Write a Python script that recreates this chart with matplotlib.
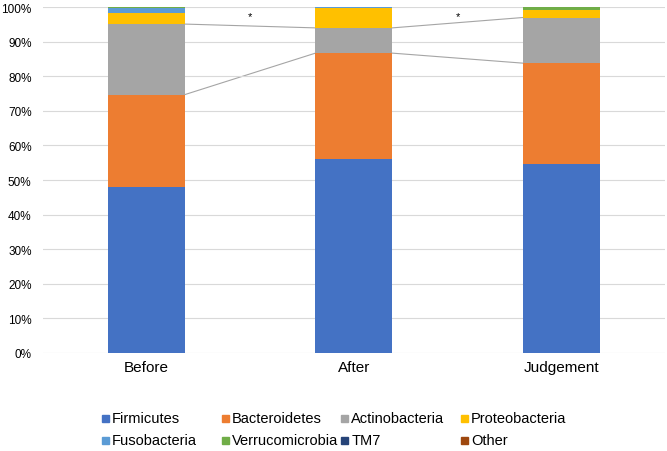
import numpy as np
import matplotlib.pyplot as plt
from matplotlib.patches import Rectangle
from matplotlib.ticker import PercentFormatter

plt.rcParams['font.family'] = ['Liberation Sans', 'DejaVu Sans']

# Datos (porcentaje)
grupos = ['Before', 'After', 'Judgement']
series = ['Firmicutes', 'Bacteroidetes', 'Actinobacteria', 'Proteobacteria',
          'Fusobacteria', 'Verrucomicrobia', 'TM7', 'Other']
firmicutes = [48.0, 56.0, 54.6]
bacteroidetes = [26.7, 30.7, 29.2]
actinobacteria = [20.4, 7.3, 13.2]
proteobacteria = [3.2, 5.7, 2.1]
fusobacteria = [1.4, 0.3, 0.2]
verrucomicrobia = [0.2, 0.0, 0.6]
tm7 = [0.0, 0.0, 0.0]
other = [0.1, 0.0, 0.1]

valores = [firmicutes, bacteroidetes, actinobacteria, proteobacteria,
           fusobacteria, verrucomicrobia, tm7, other]
colores = ['#4472C4', '#ED7D31', '#A5A5A5', '#FFC000',
           '#5B9BD5', '#70AD47', '#264478', '#9E480E']

fig = plt.figure(figsize=(6.67, 4.52), dpi=100)
ax = fig.add_axes([0.064, 0.217, 0.933, 0.765])

x = np.arange(len(grupos))
ancho = 0.37
base = np.zeros(len(grupos))
tops = []
for nombre, vals, c in zip(series, valores, colores):
    vals = np.array(vals)
    ax.bar(x, vals, ancho, bottom=base, color=c, label=nombre, zorder=2)
    base = base + vals
    tops.append(base.copy())

# Líneas de serie (Bacteroidetes y Actinobacteria)
for idx in [1, 2]:
    t = tops[idx]
    for i in range(len(grupos) - 1):
        ax.plot([x[i] + ancho / 2, x[i + 1] - ancho / 2], [t[i], t[i + 1]],
                color='#A5A5A5', lw=0.8, zorder=1)

# Asteriscos de significancia
for i in range(len(grupos) - 1):
    ax.text((x[i] + x[i + 1]) / 2, 97.4, '*', ha='center', va='center', fontsize=8)

ax.set_xlim(-0.5, 2.5)
ax.set_ylim(0, 100)
ax.set_yticks(np.arange(0, 101, 10))
ax.yaxis.set_major_formatter(PercentFormatter(decimals=0))
ax.set_xticks(x)
ax.set_xticklabels(grupos, fontsize=11)
ax.tick_params(axis='y', labelsize=8.5, length=0, pad=8)
ax.tick_params(axis='x', length=0, pad=5)
ax.grid(axis='y', color='#D9D9D9', lw=0.8, zorder=0)
for s in ax.spines.values():
    s.set_visible(False)

# Leyenda estilo Excel (filas de 4, columnas de ancho fijo)
W, H = 667, 452
for i, (nombre, c) in enumerate(zip(series, colores)):
    col, fila = i % 4, i // 4
    px = 102 + col * 119.7
    py = 419 + fila * 22
    fig.patches.append(Rectangle(((px) / W, (H - py - 3.5) / H), 7 / W, 7 / H,
                                 color=c, transform=fig.transFigure, figure=fig))
    fig.text((px + 10) / W, (H - py) / H, nombre, fontsize=10.5, va='center', ha='left')

plt.savefig('out.png', dpi=100)
